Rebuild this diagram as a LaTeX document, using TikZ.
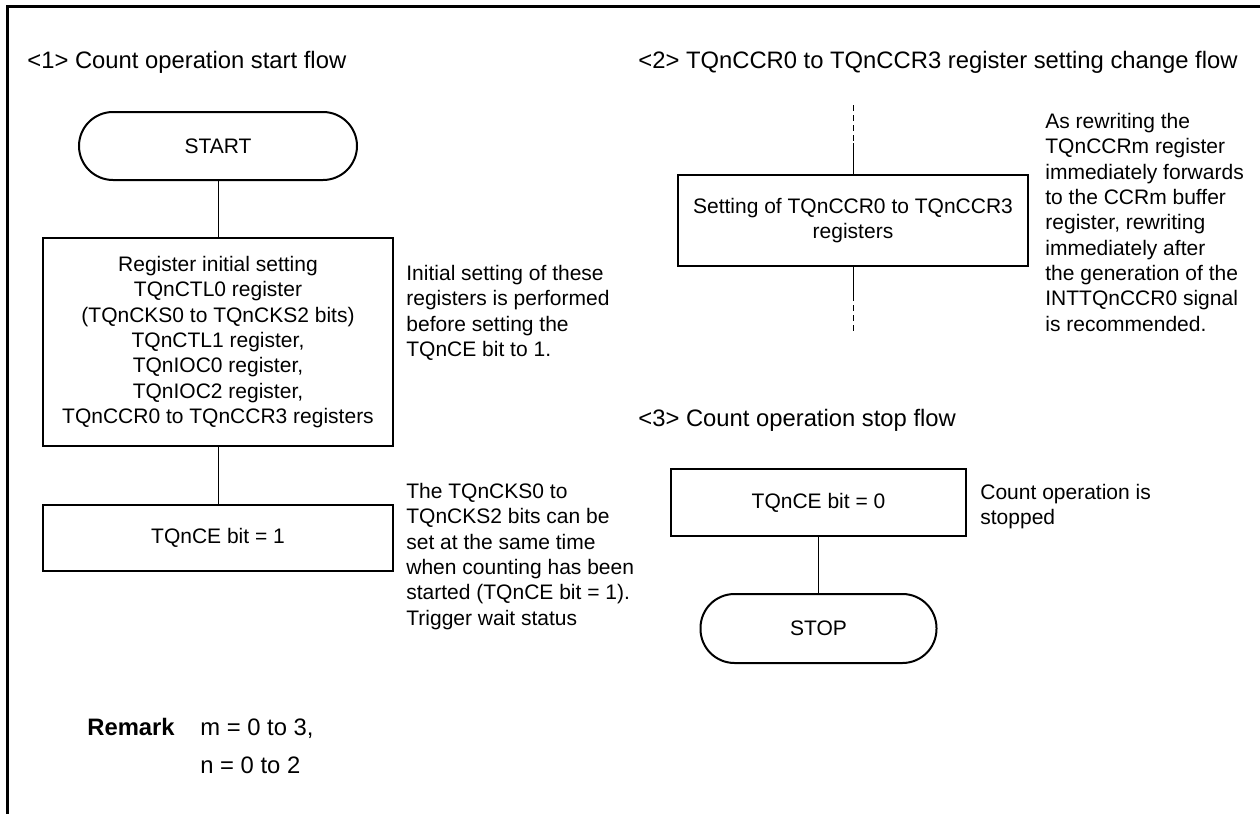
\documentclass[tikz,border=0pt]{standalone}
\usepackage{fontspec}
\setmainfont{Liberation Sans}
\usetikzlibrary{positioning}
\newcommand{\bodyfont}{\fontsize{10.5}{12.65}\selectfont}
\newcommand{\headfont}{\fontsize{11.9}{14}\selectfont}
\tikzset{
  frm/.style={line width=1.5pt,black},
  proc/.style={rectangle,draw=black,line width=1pt,inner sep=0pt,align=center,font=\bodyfont},
  term/.style={proc,rounded corners=17pt},
  link/.style={line width=0.5pt,black},
  % open ends of flow <2>, drawn between named coordinates
  dlink/.style={link,dash pattern=on 3pt off 2pt},
  note/.style={anchor=north west,inner sep=0pt,align=left,font=\bodyfont},
  head/.style={anchor=base west,inner sep=0pt,font=\headfont},
}
\newcommand{\FlowPositions}{%
  \coordinate (pStart) at (218,146);  \coordinate (pReg) at (218,342);
  \coordinate (pCEa) at (218,538);    \coordinate (pSet) at (853,220.5);
  \coordinate (pCEb) at (818.5,502.5);\coordinate (pStop) at (818.5,628.5);
  \coordinate (d1) at (853,105);      \coordinate (d1s) at (853,143);
  \coordinate (d2s) at (853,295);     \coordinate (d2) at (853,333);
}

\begin{document}
\begin{tikzpicture}[x=0.5pt,y=-0.5pt]
  \useasboundingbox (0,0) rectangle (1260,814);
  \draw[frm] (7,814) -- (7,6) -- (1260,6);
  \FlowPositions
  % flow <1>
  \node[head] (h1) at (27,68) {\textless1\textgreater{} Count operation start flow};
  \node[term,minimum width=139pt,minimum height=34pt] (start) at (pStart) {START};
  \node[proc,minimum width=175pt,minimum height=104pt] (reg) at (pReg)
    {Register initial setting\\TQnCTL0 register\\(TQnCKS0 to TQnCKS2 bits)\\TQnCTL1 register,\\TQnIOC0 register,\\TQnIOC2 register,\\TQnCCR0 to TQnCCR3 registers};
  \node[proc,minimum width=175pt,minimum height=33pt] (cea) at (pCEa) {TQnCE bit = 1};
  \draw[link] (start) -- (reg);
  \draw[link] (reg) -- (cea);
  \node[note] (n1) at (406,265) {Initial setting of these\\registers is performed\\before setting the\\TQnCE bit to 1.};
  \node[note] (n2) at (406,483) {The TQnCKS0 to\\TQnCKS2 bits can be\\set at the same time\\when counting has been\\started (TQnCE bit = 1).\\Trigger wait status};
  % flow <2>
  \node[head] (h2) at (638,68) {\textless2\textgreater{} TQnCCR0 to TQnCCR3 register setting change flow};
  \node[proc,minimum width=175pt,minimum height=45.5pt] (set) at (pSet) {Setting of TQnCCR0 to TQnCCR3\\registers};
  \draw[dlink] (d1) -- (d1s);
  \draw[link] (d1s) -- (set);
  \draw[link] (set) -- (d2s);
  \draw[dlink] (d2s) -- (d2);
  \node[note] (n3) at (1045,113) {As rewriting the\\TQnCCRm register\\immediately forwards\\to the CCRm buffer\\register, rewriting\\immediately after\\the generation of the\\INTTQnCCR0 signal\\is recommended.};
  % flow <3>
  \node[head] (h3) at (638,426) {\textless3\textgreater{} Count operation stop flow};
  \node[proc,minimum width=147.5pt,minimum height=33.5pt] (ceb) at (pCEb) {TQnCE bit = 0};
  \node[term,minimum width=118pt,minimum height=34.5pt] (stop) at (pStop) {STOP};
  \draw[link] (ceb) -- (stop);
  \node[note] (n4) at (980,484) {Count operation is\\stopped};
  % remark
  \node[head,font=\headfont\bfseries] (rem) at (87,735) {Remark};
  \node[head] (rm) at (200,735) {m = 0 to 3,};
  \node[head] (rn) at (200,773) {n = 0 to 2};
\end{tikzpicture}
\end{document}
